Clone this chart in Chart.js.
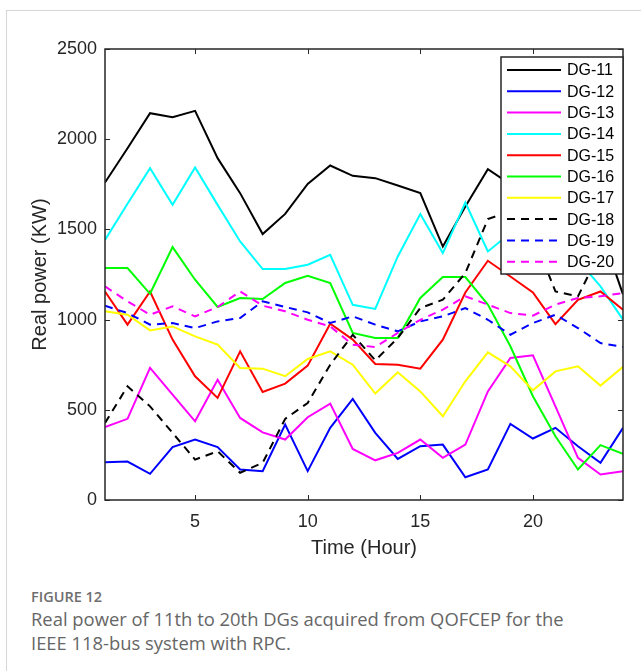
<!DOCTYPE html>
<html>
<head>
<meta charset="utf-8">
<script src="https://cdn.jsdelivr.net/npm/chart.js@4.4.1/dist/chart.umd.min.js"></script>
<style>
  html, body { margin: 0; padding: 0; background: #fff; }
  body { width: 641px; height: 671px; position: relative; overflow: hidden; }
  #card { position: absolute; left: 6px; top: 10px; width: 700px; height: 700px;
          border-left: 1px solid #d6d6d6; border-top: 1px solid #d6d6d6; }
  #chart { position: absolute; left: 0; top: 0; }
  #caption { position: absolute; left: 31px; top: 587px; width: 605px;
             font-family: "Open Sans", "Noto Sans", sans-serif; color: #666; }
  #caption .fig { font-size: 14.5px; font-weight: 600; color: #6e6e6e; line-height: 20px; }
  #caption .txt { font-size: 18.4px; line-height: 23.5px; }
</style>
</head>
<body>
<div id="card"></div>
<canvas id="chart" width="641" height="580"></canvas>
<div id="caption">
  <div class="fig">FIGURE 12</div>
  <div class="txt">Real power of 11th to 20th DGs acquired from QOFCEP for the<br>IEEE 118-bus system with RPC.</div>
</div>
<script>
// hours on the x axis
const hours = [1, 2, 3, 4, 5, 6, 7, 8, 9, 10, 11, 12, 13, 14, 15, 16, 17, 18, 19, 20, 21, 22, 23, 24];
const xTicks = [5, 10, 15, 20];
const yTicks = [0, 500, 1000, 1500, 2000, 2500];

// real power of each DG (kW)
const names = ["DG-11", "DG-12", "DG-13", "DG-14", "DG-15", "DG-16", "DG-17", "DG-18", "DG-19", "DG-20"];
const dg11 = [1760, 1950, 2144, 2122, 2157, 1895, 1701, 1474, 1586, 1752, 1854, 1797, 1784, 1743, 1701, 1405, 1627, 1834, 1750, 1700, 1650, 1600, 1500, 1140];
const dg12 = [209, 213, 145, 293, 335, 293, 169, 160, 418, 160, 400, 560, 372, 228, 298, 307, 126, 169, 422, 341, 400, 298, 206, 400];
const dg13 = [405, 450, 732, 584, 436, 667, 455, 375, 335, 459, 534, 283, 220, 261, 335, 234, 307, 602, 787, 802, 519, 234, 141, 160];
const dg14 = [1442, 1642, 1839, 1636, 1843, 1636, 1433, 1280, 1280, 1304, 1359, 1082, 1059, 1350, 1585, 1369, 1649, 1378, 1480, 1530, 1450, 1330, 1184, 1000];
const dg15 = [1156, 972, 1156, 889, 686, 566, 824, 599, 645, 745, 977, 889, 754, 750, 728, 889, 1150, 1326, 1239, 1151, 975, 1110, 1156, 1055];
const dg16 = [1286, 1286, 1143, 1402, 1221, 1070, 1120, 1114, 1203, 1243, 1203, 926, 898, 898, 1120, 1236, 1236, 1083, 852, 575, 353, 169, 304, 256];
const dg17 = [1046, 1027, 940, 962, 907, 861, 732, 728, 686, 782, 824, 750, 590, 708, 602, 464, 658, 818, 741, 608, 713, 741, 634, 738];
const dg18 = [427, 630, 519, 372, 224, 270, 151, 206, 450, 538, 750, 916, 774, 898, 1064, 1110, 1258, 1557, 1600, 1470, 1156, 1129, 1380, 1500];
const dg19 = [1077, 1036, 972, 981, 953, 990, 1009, 1101, 1070, 1040, 981, 1018, 972, 935, 990, 1018, 1064, 999, 916, 981, 1027, 953, 870, 848];
const dg20 = [1184, 1101, 1027, 1073, 1018, 1070, 1156, 1077, 1046, 999, 962, 861, 848, 926, 999, 1055, 1129, 1083, 1036, 1022, 1083, 1120, 1129, 1147];

const series = [dg11, dg12, dg13, dg14, dg15, dg16, dg17, dg18, dg19, dg20];
const colors = ["#000000", "#0000ff", "#ff00ff", "#00ffff", "#ff0000", "#00ff00", "#ffff00", "#000000", "#0000ff", "#ff00ff"];
const dashed = [false, false, false, false, false, false, false, true, true, true];

const axisColor = "#262626";
const fontFamily = "'Liberation Sans', Arial, sans-serif";

// box, inward ticks and legend like matlab draws them
const framePlugin = {
  id: "frame",
  afterDatasetsDraw(chart) {
    const { ctx, chartArea: a, scales } = chart;
    const x = scales.x, y = scales.y;
    ctx.save();
    ctx.strokeStyle = axisColor;
    ctx.lineWidth = 1.5;
    ctx.strokeRect(a.left, a.top, a.right - a.left, a.bottom - a.top);
    ctx.beginPath();
    x.ticks.forEach(t => {
      const px = Math.round(x.getPixelForValue(t.value)) + 0.5;
      ctx.moveTo(px, a.bottom); ctx.lineTo(px, a.bottom - 5);
      ctx.moveTo(px, a.top); ctx.lineTo(px, a.top + 5);
    });
    y.ticks.forEach(t => {
      const py = Math.round(y.getPixelForValue(t.value)) + 0.5;
      ctx.moveTo(a.left, py); ctx.lineTo(a.left + 5, py);
      ctx.moveTo(a.right, py); ctx.lineTo(a.right - 5, py);
    });
    ctx.lineWidth = 1;
    ctx.stroke();

    // legend box in the top right corner
    const w = 122, rowH = 21.3;
    const lx = a.right - w, ly = a.top + 8;
    const h = rowH * chart.data.datasets.length + 4;
    ctx.fillStyle = "#fff";
    ctx.fillRect(lx, ly, w, h);
    ctx.lineWidth = 1.5;
    ctx.strokeRect(lx, ly, w, h);
    ctx.font = "16px " + fontFamily;
    ctx.textBaseline = "middle";
    ctx.textAlign = "left";
    chart.data.datasets.forEach((ds, i) => {
      const cy = ly + 13 + i * rowH;
      ctx.beginPath();
      ctx.setLineDash(ds.borderDash || []);
      ctx.strokeStyle = ds.borderColor;
      ctx.lineWidth = 2;
      ctx.moveTo(lx + 6, cy);
      ctx.lineTo(lx + 60, cy);
      ctx.stroke();
      ctx.setLineDash([]);
      ctx.fillStyle = "#000";
      ctx.fillText(ds.label, lx + 66, cy + 1);
    });
    ctx.restore();
  }
};

const datasets = series.map((vals, i) => ({
  label: names[i],
  data: vals.map((v, j) => ({ x: hours[j], y: v })),
  borderColor: colors[i],
  borderWidth: 2,
  borderDash: dashed[i] ? [8, 6] : [],
  pointRadius: 0,
  tension: 0,
  fill: false,
  order: series.length - i
}));

const ctx = document.getElementById("chart").getContext("2d");
new Chart(ctx, {
  type: "line",
  data: { datasets: datasets },
  options: {
    responsive: false,
    animation: false,
    devicePixelRatio: 1,
    layout: { padding: { top: 49, right: 18, left: 0, bottom: 0 } },
    plugins: { legend: { display: false }, tooltip: { enabled: false } },
    scales: {
      x: {
        type: "linear",
        min: 1,
        max: 24,
        grid: { display: false, drawTicks: false },
        border: { display: false },
        afterBuildTicks: scale => { scale.ticks = xTicks.map(v => ({ value: v })); },
        afterFit: scale => { scale.height = 80; },
        ticks: { color: axisColor, padding: 11, font: { family: fontFamily, size: 18 },
                 callback: v => String(v) },
        title: { display: true, text: "Time (Hour)", color: axisColor,
                 font: { family: fontFamily, size: 20 }, padding: { top: 0, bottom: 20 } }
      },
      y: {
        min: 0,
        max: 2500,
        grid: { display: false, drawTicks: false },
        border: { display: false },
        afterBuildTicks: scale => { scale.ticks = yTicks.map(v => ({ value: v })); },
        afterFit: scale => { scale.width = 105; },
        ticks: { color: axisColor, padding: 8, font: { family: fontFamily, size: 18 },
                 callback: v => String(v) },
        title: { display: true, text: "Real power (KW)", color: axisColor,
                 font: { family: fontFamily, size: 20 }, padding: { top: 28, bottom: 0 } }
      }
    }
  },
  plugins: [framePlugin]
});
</script>
</body>
</html>
